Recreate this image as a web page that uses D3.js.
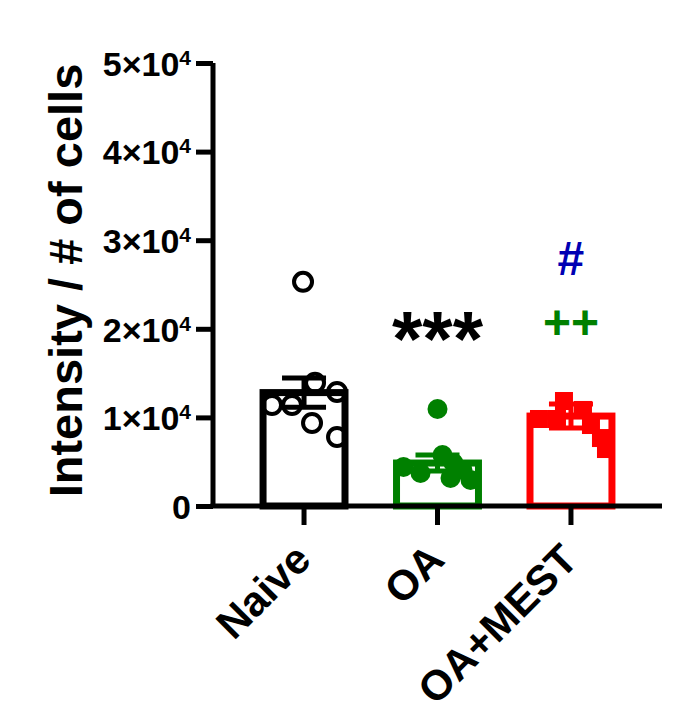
<!DOCTYPE html>
<html>
<head>
<meta charset="utf-8">
<script src="https://cdn.jsdelivr.net/npm/d3@7"></script>
<style>
  html, body { margin: 0; padding: 0; background: #fff; }
  svg { display: block; font-family: "Liberation Sans", Arial, sans-serif; font-weight: bold; }
</style>
</head>
<body>
<svg id="chart" width="684" height="722"></svg>
<script>
// ---- Dados
const groups = ["Naive", "OA", "OA+MEST"];
const groupMeans = [12800, 4850, 10150];
const groupSEM = [1650, 900, 1350];
const naivePts = [25300, 13900, 12870, 11400, 11400, 9370, 7790];
const oaPts = [10950, 5760, 4850, 4400, 3720, 4060, 3160, 2930];
const mestPts = [11850, 10840, 9820, 9820, 9140, 7670, 6430];
const yTicks = [0, 10000, 20000, 30000, 40000, 50000];
const annotations = [
    { group: "OA", text: "***", value: 20000, color: "#000000" },
    { group: "OA+MEST", text: "++", value: 20000, color: "#008000" },
    { group: "OA+MEST", text: "#", value: 26600, color: "#0000b3" }
];

// ---- Layout
const colors = ["#000000", "#008000", "#ff0000"];
const allPts = [naivePts, oaPts, mestPts];
// deslocamento horizontal dos pontos (px), como no scatter do original
const jitter = [
    [-1, 11, 33, -32, -12, 8, 33],
    [0, 5, 16, -34, -17, 25, 13, 33],
    [-7, 12, -32, -14, 20, 30, 35]
];
const annotStyle = {
    '***': { size: 78, dy: 37 },
    '++': { size: 48, dy: 10 },
    '#': { size: 48, dy: 5 }
};

const svg = d3.select('#chart');
const mLeft = 213, mRight = 662, mTop = 63, mBottom = 506;

const x = d3.scaleBand()
    .domain(groups)
    .range([mLeft, mRight])
    .paddingInner(0.386)
    .paddingOuter(0.375);

const y = d3.scaleLinear()
    .domain([0, 50000])
    .range([mBottom, mTop]);

// ---- Barras
svg.append('g').selectAll('rect')
    .data(groups)
    .join('rect')
    .attr('x', d => x(d))
    .attr('y', (d, i) => y(groupMeans[i]))
    .attr('width', x.bandwidth())
    .attr('height', (d, i) => y(0) - y(groupMeans[i]))
    .attr('fill', 'none')
    .attr('stroke', (d, i) => colors[i])
    .attr('stroke-width', 7);

// ---- Pontos
groups.forEach((gName, i) => {
    const cx = x(gName) + x.bandwidth() / 2;
    const g = svg.append('g');
    const pts = allPts[i].map((v, j) => ({ v, dx: jitter[i][j] }));
    if (i === 0) {
        g.selectAll('circle').data(pts).join('circle')
            .attr('cx', d => cx + d.dx)
            .attr('cy', d => y(d.v))
            .attr('r', 9)
            .attr('fill', 'none')
            .attr('stroke', colors[i])
            .attr('stroke-width', 4);
    } else if (i === 1) {
        g.selectAll('circle').data(pts).join('circle')
            .attr('cx', d => cx + d.dx)
            .attr('cy', d => y(d.v))
            .attr('r', 10)
            .attr('fill', colors[i]);
    } else {
        g.selectAll('rect').data(pts).join('rect')
            .attr('x', d => cx + d.dx - 9)
            .attr('y', d => y(d.v) - 9)
            .attr('width', 18)
            .attr('height', 18)
            .attr('fill', colors[i]);
    }
});

// ---- Barras de erro (média ± EPM)
groups.forEach((gName, i) => {
    const cx = x(gName) + x.bandwidth() / 2;
    const hi = y(groupMeans[i] + groupSEM[i]);
    const lo = y(groupMeans[i] - groupSEM[i]);
    const g = svg.append('g')
        .attr('stroke', colors[i])
        .attr('stroke-width', 5);
    g.append('line').attr('x1', cx).attr('x2', cx).attr('y1', hi).attr('y2', lo);
    g.append('line').attr('x1', cx - 22).attr('x2', cx + 22).attr('y1', hi).attr('y2', hi);
    g.append('line').attr('x1', cx - 22).attr('x2', cx + 22).attr('y1', lo).attr('y2', lo);
});

// ---- Eixo Y
const yAxis = svg.append('g')
    .attr('transform', `translate(${mLeft},0)`)
    .call(d3.axisLeft(y).tickValues(yTicks).tickSize(17).tickPadding(5).tickFormat(''));
yAxis.select('.domain').attr('stroke-width', 5).attr('d', `M0,${mTop}V${mBottom}`);
yAxis.selectAll('.tick line').attr('stroke-width', 5);
yAxis.selectAll('.tick text')
    .attr('font-size', 34)
    .attr('font-family', '"Liberation Sans", Arial, sans-serif')
    .attr('font-weight', 'bold')
    .attr('fill', '#000')
    .attr('dy', '0.36em')
    .each(function (d) {
        const t = d3.select(this);
        if (d === 0) { t.text('0'); return; }
        t.append('tspan').text(`${d / 10000}×10`);
        t.append('tspan').attr('dy', -11).attr('font-size', 21).text('4');
    });

// ---- Eixo X
const xAxis = svg.append('g')
    .attr('transform', `translate(0,${mBottom})`)
    .call(d3.axisBottom(x).tickSize(19).tickFormat(''));
xAxis.select('.domain').attr('stroke-width', 5).attr('d', `M${mLeft - 2.5},0H${mRight}`);
xAxis.selectAll('.tick line').attr('stroke-width', 5);

svg.append('g').selectAll('text')
    .data(groups)
    .join('text')
    .attr('transform', d => `translate(${x(d) + x.bandwidth() / 2 + 9},562) rotate(-45)`)
    .attr('text-anchor', 'end')
    .attr('font-size', 42)
    .text(d => d);

// ---- Título do eixo Y
svg.append('text')
    .attr('transform', `translate(82,${(mTop + mBottom) / 2 - 4}) rotate(-90)`)
    .attr('text-anchor', 'middle')
    .attr('font-size', 47)
    .text('Intensity / # of cells');

// ---- Anotações de significância
svg.append('g').selectAll('text')
    .data(annotations)
    .join('text')
    .attr('x', d => x(d.group) + x.bandwidth() / 2)
    .attr('y', d => y(d.value))
    .attr('text-anchor', 'middle')
    .attr('fill', d => d.color)
    .attr('font-size', d => annotStyle[d.text].size)
    .attr('dy', d => annotStyle[d.text].dy)
    .text(d => d.text);
</script>
</body>
</html>
